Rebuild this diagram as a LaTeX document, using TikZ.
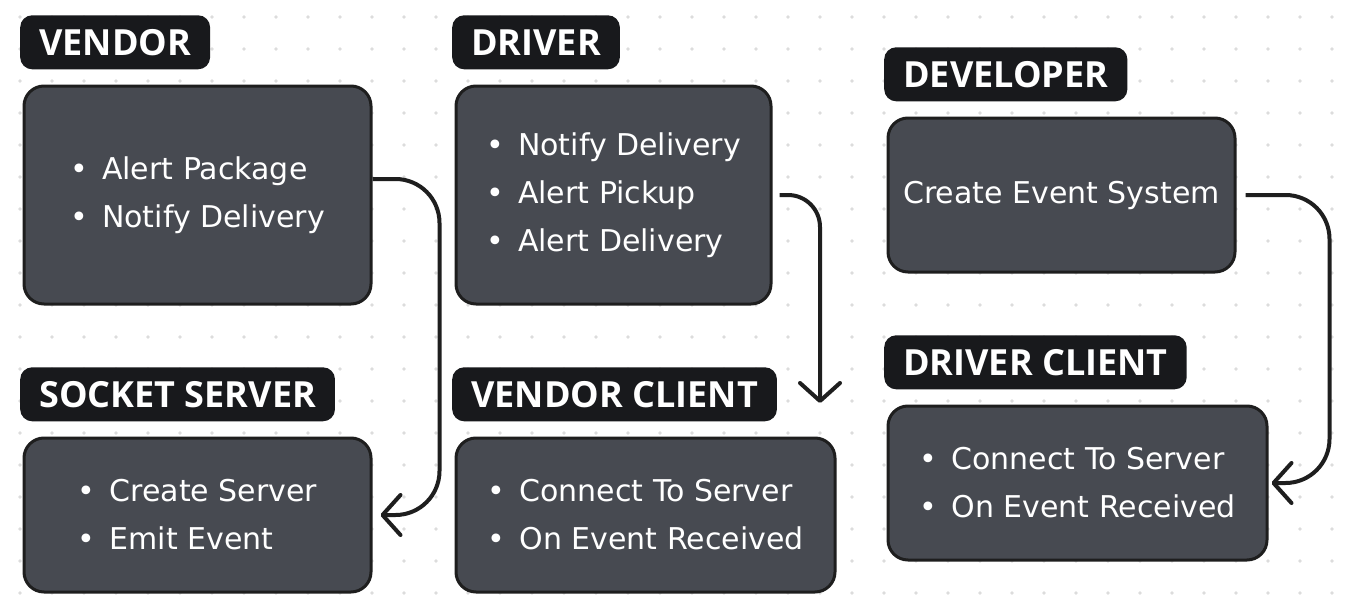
\documentclass[tikz,border=0pt]{standalone}
\usepackage{fontspec}
\setmainfont{DejaVu Sans}
\newfontfamily\tagfont{Open Sans}
\usetikzlibrary{positioning,arrows.meta}

\definecolor{cardgray}{HTML}{474A51}
\definecolor{tagblack}{HTML}{18191C}
\definecolor{inkdark}{HTML}{1E1E1E}
\definecolor{dotgray}{HTML}{DCDCDC}

\newcommand{\bulletitem}[1]{\makebox[32pt][l]{\textbullet}#1}

\tikzset{
  card/.style={draw=inkdark, line width=3pt, fill=cardgray, rounded corners=20pt, text=white, font=\fontsize{30}{48}\selectfont, align=left, inner sep=0pt, anchor=north west},
  tag/.style={fill=tagblack, rounded corners=12pt, text=white, font=\tagfont\bfseries\fontsize{36}{40}\selectfont, minimum height=54pt, inner xsep=19pt, inner ysep=0pt, anchor=south west},
  flow/.style={draw=inkdark, line width=4pt, -{Straight Barb[length=18pt,width=40pt,round]}}
}

\begin{document}
\begin{tikzpicture}[x=1pt, y=-1pt]
\useasboundingbox (0,0) rectangle (1352,610);
\fill[white] (0,0) rectangle (1352,610);
\foreach \i in {0,...,41}
  \foreach \j in {0,...,18}
    \fill[dotgray] (20+32*\i,17+32*\j) circle (1.8);

\node[card, minimum width=347pt, minimum height=218pt] (vendor) at (22.5,84.5) {\bulletitem{Alert Package}\\\bulletitem{Notify Delivery}};
\node[card, minimum width=347pt, minimum height=154pt] (server) at (22.5,436.5) {\bulletitem{Create Server}\\\bulletitem{Emit Event}};
\node[card, minimum width=315pt, minimum height=218pt] (driver) at (454.5,84.5) {\bulletitem{Notify Delivery}\\\bulletitem{Alert Pickup}\\\bulletitem{Alert Delivery}};
\node[card, minimum width=379pt, minimum height=154pt] (vclient) at (454.5,436.5) {\bulletitem{Connect To Server}\\\bulletitem{On Event Received}};
\node[card, minimum width=347pt, minimum height=154pt] (developer) at (886.5,116.5) {Create Event System};
\node[card, minimum width=379pt, minimum height=154pt] (dclient) at (886.5,404.5) {\bulletitem{Connect To Server}\\\bulletitem{On Event Received}};

\node[tag, above right=15pt and -2.5pt of vendor.north west] (vendortag) {VENDOR};
\node[tag, above right=15pt and -2.5pt of server.north west] (servertag) {SOCKET SERVER};
\node[tag, above right=15pt and -2.5pt of driver.north west] (drivertag) {DRIVER};
\node[tag, above right=15pt and -2.5pt of vclient.north west] (vclienttag) {VENDOR CLIENT};
\node[tag, above right=15pt and -2.5pt of developer.north west] (developertag) {DEVELOPER};
\node[tag, above right=15pt and -2.5pt of dclient.north west] (dclienttag) {DRIVER CLIENT};

\coordinate (drop) at (820,403);

\draw[flow, rounded corners=44pt] ([yshift=16pt]vendor.east) -- ++(67,0) |- ([xshift=8pt]server.east);
\draw[flow, rounded corners=32pt] ([xshift=7pt]driver.east) -| (drop);
\draw[flow, rounded corners=44pt] ([xshift=9pt]developer.east) -- ++(84,0) |- ([xshift=3pt]dclient.east);
\end{tikzpicture}
\end{document}
